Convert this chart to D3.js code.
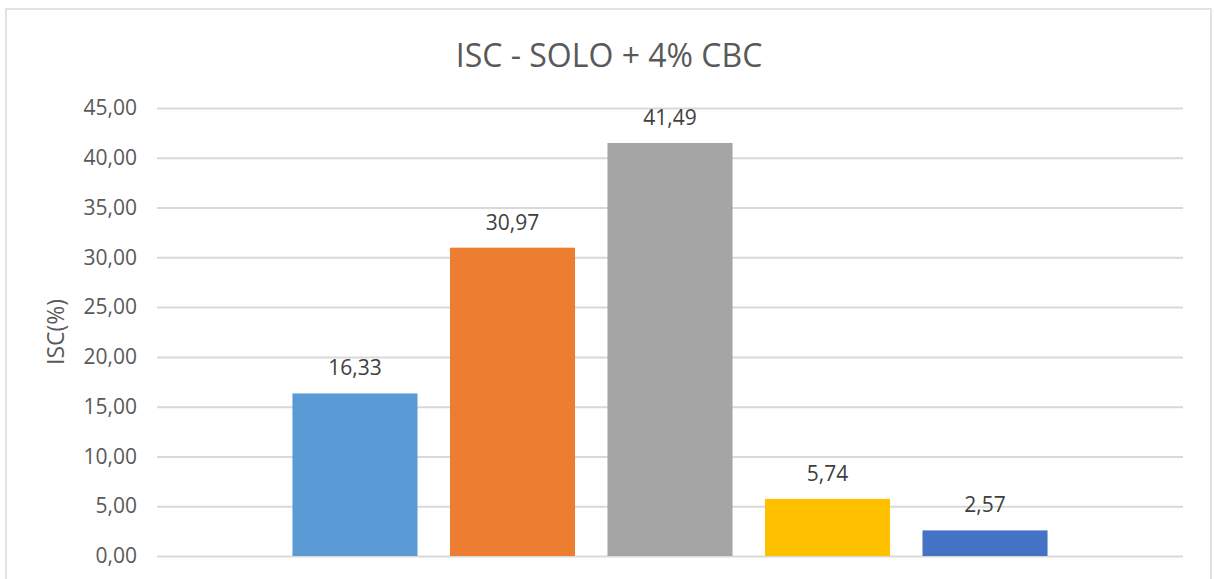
<!DOCTYPE html>
<meta charset="utf-8">
<style>
body { margin: 0; background: #fff; }
text { font-family: "Open Sans", "Liberation Sans", sans-serif; }
.grid line { stroke: #d9d9d9; stroke-width: 2; }
.grid path { display: none; }
.axis--y path, .axis--y line { display: none; }
.axis--y text { fill: #595959; font-size: 21px; }
</style>
<svg width="1215" height="579"></svg>
<script src="https://d3js.org/d3.v7.min.js"></script>
<script>

var title = "ISC - SOLO + 4% CBC",
    yLabel = "ISC(%)",
    series = ["S1", "S2", "S3", "S4", "S5"],
    values = [16.33, 30.97, 41.49, 5.74, 2.57],
    colors = ["#5b9bd5", "#ed7d31", "#a5a5a5", "#ffc000", "#4472c4"],
    yTicks = [0, 5, 10, 15, 20, 25, 30, 35, 40, 45];

var svg = d3.select("svg"),
    margin = {top: 108, right: 32, bottom: 23, left: 157},
    width = +svg.attr("width") - margin.left - margin.right,
    height = +svg.attr("height") - margin.top - margin.bottom;

var fmt = function(v) { return d3.format(".2f")(v).replace(".", ","); };

// chart border
svg.append("rect")
    .attr("x", 6).attr("y", 9)
    .attr("width", 1205).attr("height", 600)
    .attr("fill", "none")
    .attr("stroke", "#d9d9d9")
    .attr("stroke-width", 1.5);

svg.append("text")
    .attr("x", 609)
    .attr("y", 67)
    .attr("text-anchor", "middle")
    .attr("fill", "#595959")
    .style("font-size", "32px")
    .text(title);

var x = d3.scaleBand().domain(series).range([0, width])
    .paddingInner(0.206).paddingOuter(0.86);
var y = d3.scaleLinear().domain([0, 45]).range([height, 0]);

var g = svg.append("g")
    .attr("transform", "translate(" + margin.left + "," + margin.top + ")");

g.append("g")
    .attr("class", "grid")
    .call(d3.axisLeft(y).tickValues(yTicks).tickSize(-width).tickFormat(""));

g.append("g")
    .attr("class", "axis axis--y")
    .call(d3.axisLeft(y).tickValues(yTicks).tickSize(0).tickPadding(20).tickFormat(fmt));

svg.append("text")
    .attr("transform", "translate(64," + (margin.top + height / 2) + ") rotate(-90)")
    .attr("text-anchor", "middle")
    .attr("fill", "#595959")
    .style("font-size", "23px")
    .text(yLabel);

g.selectAll(".bar")
    .data(values)
  .enter().append("rect")
    .attr("class", "bar")
    .attr("x", function(d, i) { return x(series[i]); })
    .attr("y", function(d) { return y(d); })
    .attr("width", x.bandwidth())
    .attr("height", function(d) { return height - y(d); })
    .attr("fill", function(d, i) { return colors[i]; });

g.selectAll(".label")
    .data(values)
  .enter().append("text")
    .attr("class", "label")
    .attr("x", function(d, i) { return x(series[i]) + x.bandwidth() / 2; })
    .attr("y", function(d) { return y(d) - 18; })
    .attr("text-anchor", "middle")
    .attr("fill", "#404040")
    .style("font-size", "21px")
    .text(fmt);

</script>
